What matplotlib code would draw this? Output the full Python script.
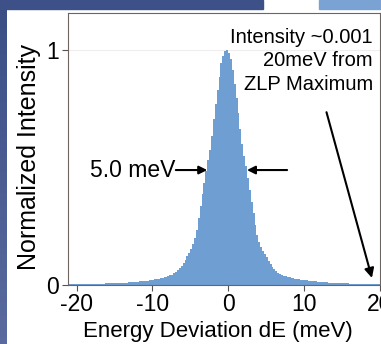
import numpy as np
import matplotlib
matplotlib.use("Agg")
import matplotlib.pyplot as plt
from matplotlib.patches import Rectangle

plt.rcParams['font.family'] = ['Liberation Sans', 'DejaVu Sans']

# ---- data: normalized ZLP histogram, 0.25 meV bins from -21 to 20 meV ----
BIN_START = -21.0
BIN_WIDTH = 0.25
counts = [
    0.0037, 0.0038, 0.0039, 0.0040, 0.0042, 0.0043, 0.0044, 0.0045,   # -21 .. -19
    0.0047, 0.0048, 0.0049, 0.0050, 0.0052, 0.0053, 0.0054, 0.0055,   # -19 .. -17
    0.0058, 0.0060, 0.0063, 0.0065, 0.0068, 0.0070, 0.0073, 0.0075,   # -17 .. -15
    0.0079, 0.0083, 0.0086, 0.0090, 0.0095, 0.0100, 0.0105, 0.0110,   # -15 .. -13
    0.0115, 0.0120, 0.0125, 0.0130, 0.0140, 0.0150, 0.0160, 0.0170,   # -13 .. -11
    0.0180, 0.0190, 0.0200, 0.0215, 0.0229, 0.0243, 0.0258, 0.0275,   # -11 .. -9
    0.0295, 0.0315, 0.0335, 0.0355, 0.0375, 0.0405, 0.0445, 0.0490,   # -9 .. -7
    0.055, 0.064, 0.073, 0.082, 0.094, 0.108, 0.124, 0.138,           # -7 .. -5
    0.155, 0.174, 0.198, 0.235, 0.285, 0.335, 0.385, 0.435,           # -5 .. -3
    0.485, 0.530, 0.575, 0.635, 0.705, 0.770, 0.830, 0.885,           # -3 .. -1
    0.945, 0.975, 0.995, 1.000, 0.985, 0.960, 0.915, 0.855,           # -1 .. 1
    0.795, 0.730, 0.665, 0.600, 0.550, 0.505, 0.455, 0.405,           # 1 .. 3
    0.355, 0.305, 0.255, 0.212, 0.185, 0.162, 0.145, 0.130,           # 3 .. 5
    0.117, 0.102, 0.088, 0.077, 0.069, 0.060, 0.053, 0.047,           # 5 .. 7
    0.043, 0.040, 0.037, 0.035, 0.033, 0.031, 0.029, 0.027,           # 7 .. 9
    0.0255, 0.0240, 0.0228, 0.0217, 0.0206, 0.0196, 0.0186, 0.0177,   # 9 .. 11
    0.0168, 0.0160, 0.0152, 0.0145, 0.0138, 0.0131, 0.0124, 0.0118,   # 11 .. 13
    0.0112, 0.0106, 0.0101, 0.0096, 0.0091, 0.0087, 0.0083, 0.0079,   # 13 .. 15
    0.0075, 0.0072, 0.0069, 0.0066, 0.0063, 0.0061, 0.0059, 0.0057,   # 15 .. 17
    0.0055, 0.0054, 0.0052, 0.0051, 0.0049, 0.0048, 0.0047, 0.0046,   # 17 .. 19
    0.0045, 0.0044, 0.0043, 0.0042,                                   # 19 .. 20
]
x_ticks = [-20, -10, 0, 10, 20]
y_ticks = [0, 1]
fwhm_label = "5.0 meV"
note_label = "Intensity ~0.001\n20meV from\nZLP Maximum"

edges = BIN_START + BIN_WIDTH * np.arange(len(counts) + 1)

W, H = 381, 344
fig = plt.figure(figsize=(W / 100, H / 100), dpi=100)

# slide background pieces around the picture
grad = fig.add_axes([0, 0, 7 / W, 1])
grad.imshow(np.linspace(0, 1, 50).reshape(-1, 1), aspect='auto',
            cmap=matplotlib.colors.LinearSegmentedColormap.from_list(
                'bg', ['#3a4e86', '#5a6a9e']), extent=[0, 1, 0, 1])
grad.axis('off')
fig.patches.append(Rectangle((0, 1 - 9 / H), 263 / W, 9 / H,
                             transform=fig.transFigure, color='#3d5087', zorder=0))
fig.patches.append(Rectangle((319 / W, 1 - 9 / H), 62 / W, 9 / H,
                             transform=fig.transFigure, color='#7aa3d3', zorder=0))

ax = fig.add_axes([67.5 / W, 1 - 285 / H, (379.5 - 67.5) / W, (285 - 13) / H])
ax.stairs(counts, edges, fill=True, color='#6f9ed2', linewidth=0)
ax.axhline(1, color='#efeded', lw=0.8, zorder=0)

ax.set_xlim(-21.2, 20)
ax.set_ylim(0, 1.157)
ax.set_xticks(x_ticks)
ax.set_yticks(y_ticks)
ax.set_xticklabels([str(t) for t in x_ticks])
ax.tick_params(labelsize=16.5, length=4, width=0.8, color='#5a5250', pad=2)
for s in ax.spines.values():
    s.set_color('#6e6460')
    s.set_linewidth(0.8)

ax.set_xlabel("Energy Deviation dE (meV)", fontsize=16)
ax.xaxis.set_label_coords(0.482, -0.132)
ax.set_ylabel("Normalized Intensity", fontsize=18)
ax.yaxis.set_label_coords(-0.085, 0.47)

# FWHM arrows
ax.annotate("", xy=(-2.75, 0.489), xytext=(-6.9, 0.489),
            arrowprops=dict(arrowstyle='-|>', color='black', lw=1.5,
                            mutation_scale=12, shrinkA=0, shrinkB=0))
ax.annotate("", xy=(2.5, 0.489), xytext=(7.8, 0.489),
            arrowprops=dict(arrowstyle='-|>', color='black', lw=1.5,
                            mutation_scale=12, shrinkA=0, shrinkB=0))
ax.text(-7.0, 0.489, fwhm_label, fontsize=16.5, ha='right', va='center')

# note + arrow to the tail
ax.text(19.15, 1.094, note_label, fontsize=14.5, ha='right', va='top',
        linespacing=1.3)
ax.annotate("", xy=(19.0, 0.03), xytext=(13.0, 0.735),
            arrowprops=dict(arrowstyle='-|>', color='black', lw=1.5,
                            mutation_scale=14, shrinkA=0, shrinkB=0))

fig.savefig("out.png", dpi=100)
